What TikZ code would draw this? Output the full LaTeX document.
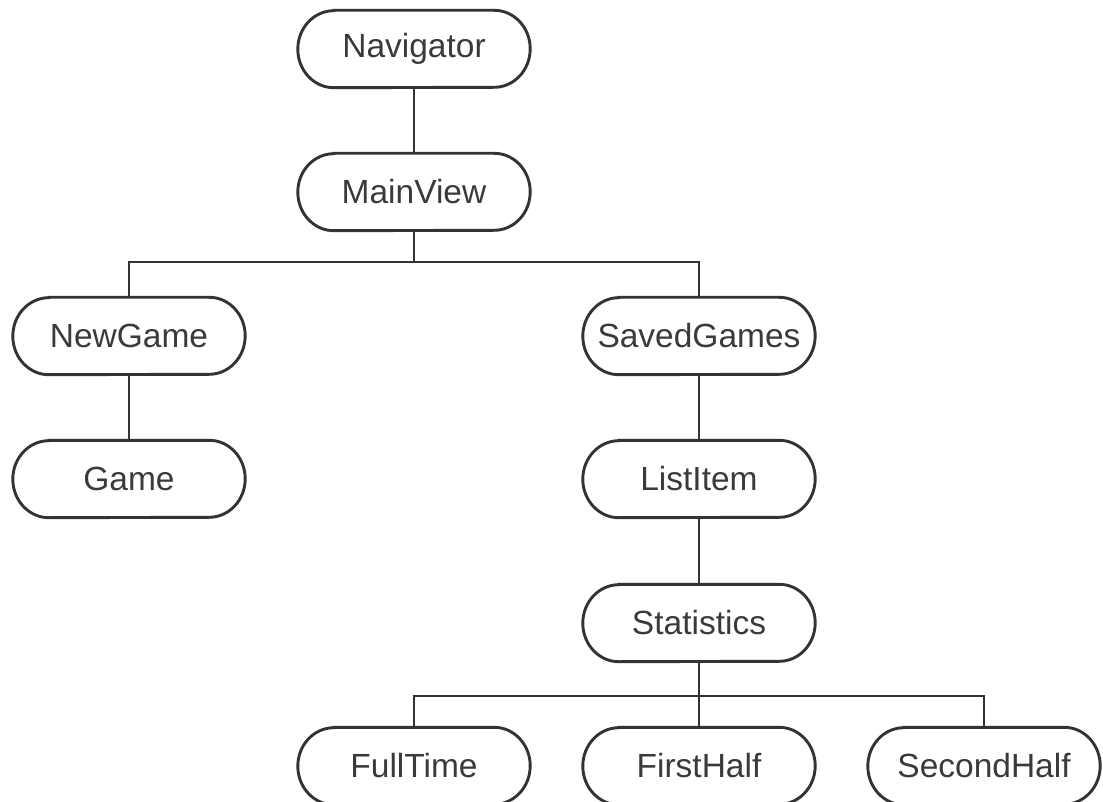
\documentclass[tikz,border=0pt]{standalone}
\usepackage{fontspec}
\setmainfont{Liberation Sans}
\definecolor{ink}{HTML}{333333}
\definecolor{label}{HTML}{3A3A3A}
\begin{document}
\begin{tikzpicture}[x=1pt,y=-1pt,
  box/.style={rectangle, minimum width=232pt, minimum height=77pt, inner sep=0pt,
              text=label, font=\fontsize{33.5}{40}\selectfont},
  outline/.style={draw=ink, line width=2.9pt},
  link/.style={draw=ink, line width=2.9pt}]
\useasboundingbox (0,0) rectangle (1103,802);

% screens of the app
\node[box] (nav)    at (414,49)  {Navigator};
\node[box] (main)   at (414,192) {MainView};
\node[box] (newg)   at (129,336) {NewGame};
\node[box] (saved)  at (699,336) {SavedGames};
\node[box] (game)   at (129,479) {Game};
\node[box] (item)   at (699,479) {ListItem};
\node[box] (stats)  at (699,623) {Statistics};
\node[box] (full)   at (414,766) {FullTime};
\node[box] (first)  at (699,766) {FirstHalf};
\node[box] (second) at (984,766) {SecondHalf};

% pill outlines with slightly elliptic ends
\foreach \n in {nav,main,newg,saved,game,item,stats,full,first,second}
  \draw[outline] ([xshift=36pt]\n.north west) -- ([xshift=-36pt]\n.north east)
    arc[start angle=90, end angle=-90, x radius=36pt, y radius=38.5pt]
    -- ([xshift=36pt]\n.south west)
    arc[start angle=270, end angle=90, x radius=36pt, y radius=38.5pt] -- cycle;

% branching points
\coordinate (split1) at (414,262);
\coordinate (split2) at (699,696);

% hierarchy
\draw[link] (nav.south) -- (main.north);
\draw[link] (main.south) -- (split1);
\draw[link] (newg.north) |- (split1) -| (saved.north);
\draw[link] (newg.south) -- (game.north);
\draw[link] (saved.south) -- (item.north);
\draw[link] (item.south) -- (stats.north);
\draw[link] (stats.south) -- (first.north);
\draw[link] (full.north) |- (split2) -| (second.north);
\end{tikzpicture}
\end{document}
